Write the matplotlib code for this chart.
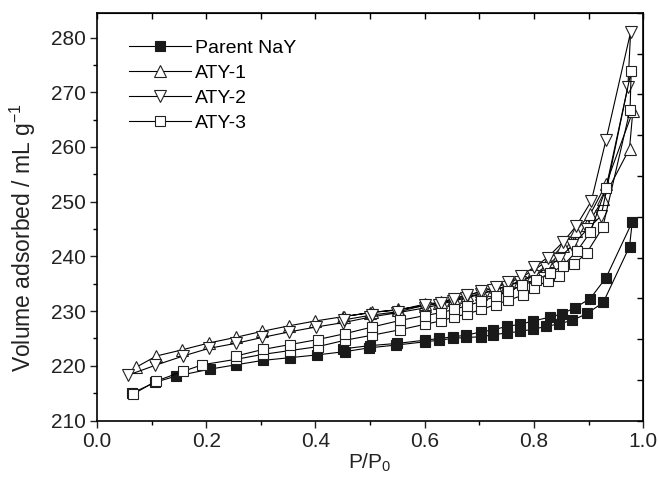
import numpy as np
import matplotlib
matplotlib.use("Agg")
import matplotlib.pyplot as plt
from matplotlib.ticker import MultipleLocator

plt.rcParams['font.family'] = ['Liberation Sans', 'DejaVu Sans']
plt.rcParams['mathtext.default'] = 'regular'

# Parent NaY: adsorption then desorption branch (P/P0, mL/g)
parent_x = [0.064, 0.107, 0.144, 0.207, 0.255, 0.304, 0.354, 0.403, 0.454, 0.499,
            0.548, 0.601, 0.627, 0.651, 0.676, 0.703, 0.726, 0.750, 0.775, 0.798,
            0.823, 0.846, 0.870, 0.898, 0.927, 0.975,
            0.980, 0.932, 0.903, 0.875, 0.851, 0.829, 0.799, 0.775, 0.750, 0.726,
            0.703, 0.676, 0.651, 0.627, 0.601, 0.550, 0.500, 0.450]
parent_y = [215.0, 217.0, 218.1, 219.4, 220.2, 221.0, 221.5, 222.0, 222.6, 223.3,
            223.8, 224.4, 224.7, 225.0, 225.2, 225.3, 225.7, 226.0, 226.3, 226.7,
            227.2, 227.7, 228.3, 229.6, 231.6, 241.8,
            246.3, 236.1, 232.3, 230.6, 229.5, 228.9, 228.2, 227.6, 227.2, 226.6,
            226.2, 225.6, 225.3, 225.0, 224.7, 224.1, 223.7, 223.1]

# ATY-1
aty1_x = [0.071, 0.109, 0.155, 0.206, 0.254, 0.302, 0.351, 0.400, 0.451, 0.500,
          0.552, 0.601, 0.627, 0.651, 0.676, 0.703, 0.726, 0.750, 0.775, 0.798,
          0.823, 0.846, 0.870, 0.898, 0.927, 0.975,
          0.981, 0.932, 0.903, 0.877, 0.853, 0.825, 0.800, 0.777, 0.753, 0.730,
          0.704, 0.678, 0.653, 0.629, 0.601, 0.552, 0.504, 0.452]
aty1_y = [219.7, 221.8, 222.9, 224.2, 225.2, 226.3, 227.3, 228.2, 229.0, 229.7,
          230.3, 231.0, 231.4, 232.0, 232.6, 233.2, 233.9, 234.6, 235.5, 236.6,
          238.2, 240.2, 242.6, 245.8, 250.5, 259.7,
          266.5, 253.2, 247.7, 244.7, 241.9, 239.2, 237.5, 236.2, 235.1, 234.4,
          233.6, 232.9, 232.3, 231.6, 231.3, 230.2, 229.8, 229.0]

# ATY-2
aty2_x = [0.057, 0.107, 0.158, 0.205, 0.254, 0.303, 0.352, 0.401, 0.451, 0.500,
          0.550, 0.601, 0.627, 0.651, 0.676, 0.703, 0.726, 0.750, 0.775, 0.798,
          0.823, 0.846, 0.870, 0.898, 0.923, 0.972,
          0.977, 0.932, 0.905, 0.877, 0.853, 0.825, 0.800, 0.777, 0.753, 0.730,
          0.704, 0.678, 0.653, 0.629, 0.601, 0.552, 0.504, 0.452]
aty2_y = [218.3, 220.1, 221.8, 223.2, 224.1, 225.2, 226.2, 227.1, 227.9, 228.9,
          229.7, 230.6, 231.2, 231.8, 232.4, 233.1, 233.8, 234.5, 235.4, 236.4,
          237.8, 239.6, 242.0, 245.0, 247.4, 271.0,
          281.0, 261.3, 250.1, 245.5, 242.6, 239.8, 238.0, 236.5, 235.3, 234.4,
          233.6, 232.9, 232.3, 231.5, 231.1, 229.9, 229.3, 228.4]

# ATY-3
aty3_x = [0.066, 0.108, 0.158, 0.193, 0.255, 0.304, 0.354, 0.404, 0.455, 0.504,
          0.555, 0.601, 0.629, 0.653, 0.678, 0.704, 0.730, 0.753, 0.780, 0.800,
          0.825, 0.846, 0.874, 0.897, 0.926, 0.976,
          0.978, 0.932, 0.903, 0.879, 0.853, 0.829, 0.804, 0.779, 0.753, 0.730,
          0.704, 0.678, 0.653, 0.629, 0.601, 0.555, 0.504, 0.455, 0.404, 0.354,
          0.304, 0.255]
aty3_y = [214.8, 217.2, 219.0, 220.2, 221.2, 222.1, 222.8, 223.5, 224.7, 225.6,
          226.6, 227.6, 228.2, 228.9, 229.5, 230.3, 231.2, 232.0, 232.9, 234.3,
          235.5, 236.5, 238.6, 240.7, 245.3, 266.8,
          273.8, 252.5, 244.4, 241.0, 238.3, 236.9, 235.7, 234.7, 233.6, 232.7,
          231.8, 231.0, 230.3, 229.7, 229.2, 228.3, 227.1, 225.9, 224.8, 223.9,
          223.0, 221.8]

labels = ["Parent NaY", "ATY-1", "ATY-2", "ATY-3"]

fig = plt.figure(figsize=(6.59, 4.79), dpi=100)
ax = fig.add_axes([0.147, 0.122, 0.829, 0.851])

lw = 0.8
ax.plot(parent_x, parent_y, color='black', lw=lw, marker='s', ms=6.5,
        mfc='#1a1a1a', mec='#1a1a1a', mew=0.8, label=labels[0])
ax.plot(aty1_x, aty1_y, color='black', lw=lw, marker='^', ms=8.5,
        mfc='white', mec='#222222', mew=0.8, label=labels[1])
ax.plot(aty2_x, aty2_y, color='black', lw=lw, marker='v', ms=8.5,
        mfc='white', mec='#222222', mew=0.8, label=labels[2])
ax.plot(aty3_x, aty3_y, color='black', lw=lw, marker='s', ms=7,
        mfc='white', mec='#222222', mew=0.8, label=labels[3])

ax.set_xlim(0.0, 1.0)
ax.set_ylim(210, 284.5)
ax.xaxis.set_major_locator(MultipleLocator(0.2))
ax.xaxis.set_minor_locator(MultipleLocator(0.1))
ax.yaxis.set_minor_locator(MultipleLocator(5))
ax.set_yticks(np.arange(210, 281, 10))
ax.xaxis.set_major_formatter(matplotlib.ticker.FormatStrFormatter('%.1f'))
ax.tick_params(which='major', direction='out', length=5, width=1, labelsize=15,
               colors='#222222', pad=3)
ax.tick_params(which='minor', direction='out', length=3, width=1)
for sp in ax.spines.values():
    sp.set_linewidth(1.2)

# mirrored inner ticks on the top and right frame
top = ax.secondary_xaxis('top')
top.set_xticks(np.arange(0, 1.01, 0.1))
top.tick_params(direction='in', length=4, width=1, labeltop=False)
right = ax.secondary_yaxis('right')
right.set_yticks(np.linspace(210, 284.5, 11))
right.tick_params(direction='in', length=4, width=1, labelright=False)

ax.set_xlabel("P/P$_0$", fontsize=15, labelpad=1, color='#222222')
ax.set_ylabel("Volume adsorbed / mL g$^{-1}$", fontsize=16.5, color='#222222')
ax.yaxis.set_label_coords(-0.108, 0.45)

ax.legend(loc='upper left', bbox_to_anchor=(0.045, 0.955), frameon=False,
          fontsize=14, handlelength=3.2, handletextpad=0.2, labelspacing=0.38,
          borderaxespad=0, numpoints=1)

fig.savefig("out.png", dpi=100)
